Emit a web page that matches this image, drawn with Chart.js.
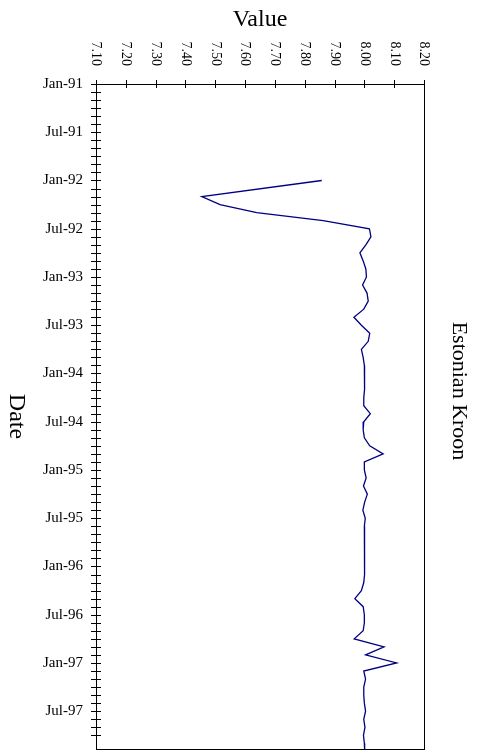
<!DOCTYPE html>
<html>
<head>
<meta charset="utf-8">
<script src="https://cdn.jsdelivr.net/npm/chart.js@4.4.1/dist/chart.umd.min.js"></script>
<style>
  html, body { margin: 0; padding: 0; background: #ffffff; }
  #wrap { width: 479px; height: 754px; }
</style>
</head>
<body>
<div id="wrap"><canvas id="c" width="479" height="754"></canvas></div>
<script>
// Monthly observations (YYYY-MM)
const dates = [
  '1992-01','1992-03','1992-04','1992-05','1992-06','1992-07','1992-08','1992-09','1992-10','1992-11','1992-12',
  '1993-01','1993-02','1993-03','1993-04','1993-05','1993-06','1993-07','1993-08','1993-09','1993-10','1993-11','1993-12',
  '1994-01','1994-02','1994-03','1994-04','1994-05','1994-06','1994-07','1994-08','1994-09','1994-10','1994-11','1994-12',
  '1995-01','1995-02','1995-03','1995-04','1995-05','1995-06','1995-07','1995-08','1995-09','1995-10','1995-11','1995-12',
  '1996-01','1996-02','1996-03','1996-04','1996-05','1996-06','1996-07','1996-08','1996-09','1996-10','1996-11','1996-12',
  '1997-01','1997-02','1997-03','1997-04','1997-05','1997-06','1997-07','1997-08','1997-09','1997-10','1997-11','1997-12'
];
// Estonian Kroon value per observation
const values = [
  7.857, 7.455, 7.516, 7.639, 7.862, 8.017, 8.022, 8.005, 7.985, 7.996, 8.005,
  8.007, 7.994, 8.009, 8.013, 7.998, 7.965, 7.990, 8.018, 8.013, 7.990, 7.996, 8.000,
  8.001, 8.000, 8.001, 7.998, 7.998, 8.020, 7.998, 7.996, 8.000, 8.018, 8.063, 8.000,
  8.000, 8.006, 7.997, 8.010, 8.001, 7.995, 8.003, 8.000, 8.002, 8.000, 8.001, 8.000,
  8.001, 8.000, 7.998, 7.990, 7.968, 7.996, 8.000, 8.000, 7.996, 7.966, 8.066, 8.004,
  8.108, 7.998, 8.004, 7.998, 7.998, 8.000, 8.004, 7.998, 8.002, 7.997, 8.000, 8.001
];
// Tick label pieces
const monthNames = ['Jan','Feb','Mar','Apr','May','Jun','Jul','Aug','Sep','Oct','Nov','Dec'];
const startYear = 1991;
const valueMin = 7.10, valueMax = 8.20, valueStep = 0.10;
const dateMax = 82.7; // months after Jan-91 where the axis ends

const monthIndex = d => {
  const [y, m] = d.split('-').map(Number);
  return (y - startYear) * 12 + (m - 1);
};
const points = dates.map((d, i) => ({ x: values[i], y: monthIndex(d) }));

const serif = '"Liberation Serif", "Times New Roman", serif';

// Frame, crossing tick marks, rotated value labels and side titles
const decor = {
  id: 'decor',
  afterDraw(chart) {
    const { ctx, chartArea: a, scales } = chart;
    const xs = scales.x, ys = scales.y;
    ctx.save();
    ctx.strokeStyle = '#000';
    ctx.lineWidth = 1;
    ctx.strokeRect(Math.round(a.left) + 0.5, Math.round(a.top) + 0.5,
                   Math.round(a.right - a.left), Math.round(a.bottom - a.top));
    ctx.beginPath();
    xs.ticks.forEach(t => {
      const px = Math.round(xs.getPixelForValue(t.value)) + 0.5;
      ctx.moveTo(px, a.top - 4); ctx.lineTo(px, a.top + 4);
    });
    ys.ticks.forEach(t => {
      if (!Number.isInteger(t.value)) return;
      const py = Math.round(ys.getPixelForValue(t.value)) + 0.5;
      ctx.moveTo(a.left - 5, py); ctx.lineTo(a.left + 5, py);
    });
    ctx.stroke();

    ctx.fillStyle = '#000';
    ctx.font = '14px ' + serif;
    ctx.textAlign = 'right';
    ctx.textBaseline = 'middle';
    xs.ticks.forEach(t => {
      const px = xs.getPixelForValue(t.value);
      ctx.save();
      ctx.translate(px, a.top - 18);
      ctx.rotate(Math.PI / 2);
      ctx.fillText(t.value.toFixed(2), 0, 0);
      ctx.restore();
    });

    ctx.textAlign = 'center';
    ctx.font = '24px ' + serif;
    ctx.save();
    ctx.translate(16, (a.top + a.bottom) / 2);
    ctx.rotate(Math.PI / 2);
    ctx.fillText('Date', 0, 0);
    ctx.restore();

    ctx.font = '22px ' + serif;
    ctx.save();
    ctx.translate(459, 391);
    ctx.rotate(Math.PI / 2);
    ctx.fillText('Estonian Kroon', 0, 0);
    ctx.restore();
    ctx.restore();
  }
};

new Chart(document.getElementById('c'), {
  type: 'line',
  data: {
    datasets: [{
      label: 'Estonian Kroon',
      data: points,
      borderColor: '#000080',
      borderWidth: 1.3,
      pointRadius: 0,
      tension: 0,
      fill: false
    }]
  },
  options: {
    responsive: false,
    animation: false,
    devicePixelRatio: 1,
    indexAxis: 'y',
    layout: { padding: { left: 0, right: 55, top: 0, bottom: 5 } },
    plugins: { legend: { display: false }, tooltip: { enabled: false } },
    scales: {
      x: {
        type: 'linear',
        position: 'top',
        min: valueMin,
        max: valueMax,
        ticks: { display: false, stepSize: valueStep },
        grid: { display: false, drawTicks: false },
        border: { display: false },
        title: {
          display: true,
          text: 'Value',
          color: '#000',
          font: { family: serif, size: 24 },
          padding: { top: 5, bottom: 0 }
        },
        afterFit(s) {
          s.height = 84;
          s.paddingLeft = 0; s.paddingRight = 0;
        }
      },
      y: {
        type: 'linear',
        position: 'left',
        reverse: true,
        min: 0,
        max: dateMax,
        ticks: {
          stepSize: 1,
          autoSkip: false,
          padding: 13,
          color: '#000',
          font: { family: serif, size: 15 },
          callback(v) {
            if (!Number.isInteger(v) || v % 6 !== 0) return '';
            return monthNames[v % 12] + '-' + String((startYear + Math.floor(v / 12)) % 100).padStart(2, '0');
          }
        },
        grid: { display: false, drawTicks: false },
        border: { display: false },
        afterFit(s) {
          s.width = 96;
          s.paddingTop = 0; s.paddingBottom = 0;
        }
      }
    }
  },
  plugins: [decor]
});
</script>
</body>
</html>
